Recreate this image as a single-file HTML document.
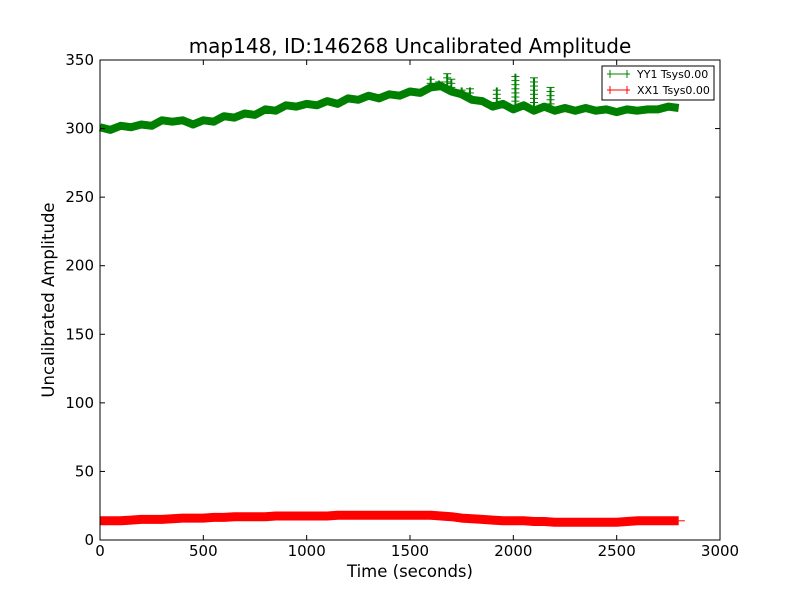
<!DOCTYPE html>
<html><head><meta charset="utf-8"><style>
body{margin:0;background:#fff;}
svg{display:block;font-family:"DejaVu Sans","Liberation Sans",sans-serif;}
</style></head><body>
<svg id="chart" width="800" height="600">
<rect x="0" y="0" width="800" height="600" fill="#fff"/>
<text x="410" y="53" font-size="20" text-anchor="middle">map148, ID:146268 Uncalibrated Amplitude</text>
<g id="plot"></g>
<rect x="100" y="60" width="620" height="480" fill="none" stroke="#000" stroke-width="1"/>
<text x="410" y="577" font-size="16.5" text-anchor="middle">Time (seconds)</text>
<text transform="translate(54,300) rotate(-90)" font-size="16.5" text-anchor="middle">Uncalibrated Amplitude</text>
<g>
<rect x="602" y="66" width="112" height="34" fill="#fff" stroke="#000" stroke-width="1"/>
<g>
<line x1="607" y1="74" x2="630" y2="74" stroke="green"/><line x1="610" y1="70" x2="610" y2="78" stroke="green"/><line x1="627" y1="70" x2="627" y2="78" stroke="green"/>
<text x="637" y="78" font-size="11">YY1 Tsys0.00</text></g>
<g>
<line x1="607" y1="90" x2="630" y2="90" stroke="red"/><line x1="610" y1="86" x2="610" y2="94" stroke="red"/><line x1="627" y1="86" x2="627" y2="94" stroke="red"/>
<text x="637" y="94" font-size="11">XX1 Tsys0.00</text></g>
</g>
</svg>
<script>
const times=[0,50,100,150,200,250,300,350,400,450,500,550,600,650,700,750,800,850,900,950,1000,1050,1100,1150,1200,1250,1300,1350,1400,1450,1500,1550,1600,1650,1700,1750,1800,1850,1900,1950,2000,2050,2100,2150,2200,2250,2300,2350,2400,2450,2500,2550,2600,2650,2700,2750,2800];
const yy1=[301,299,302,301,303,302,306,305,306,303,306,305,309,308,311,310,314,313,317,316,318,317,320,318,322,321,324,322,325,324,327,326,330,331,327,325,321,320,316,318,314,317,313,316,313,315,313,315,313,314,312,314,313,314,314,316,315];
const xx1=[14,14,14,14.5,15,15,15,15.5,16,16,16,16.5,16.5,17,17,17,17,17.5,17.5,17.5,17.5,17.5,17.5,18,18,18,18,18,18,18,18,18,18,17.5,17,16,15.5,15,14.5,14,14,14,13.5,13.5,13,13,13,13,13,13,13,13.5,14,14,14,14,14];
const spikeTimes=[1600,1640,1680,1700,1750,1790,1920,2010,2100,2180];
const spikeValues=[338,335,340,336,330,330,330,340,337,330];
const spikeBase=[330,331,328,327,325,323,316,314,313,315];
const xTicks=[0,500,1000,1500,2000,2500,3000];
const yTicks=[0,50,100,150,200,250,300,350];
const X=t=>100+t/3000*620, Y=v=>540-v/350*480;
const NS="http://www.w3.org/2000/svg", g=document.getElementById('plot');
function mk(tag,at,parent){const e=document.createElementNS(NS,tag);for(const k in at)e.setAttribute(k,at[k]);(parent||g).appendChild(e);return e;}
function series(vals,color,name,w){
  const pts=times.map((t,i)=>X(t).toFixed(1)+','+Y(vals[i]).toFixed(1)).join(' ');
  const p=mk('polyline',{points:pts,fill:'none',stroke:color,'stroke-width':w,'stroke-linejoin':'round'});
  
  
}
series(yy1,'green','yy1-series',8);
series(xx1,'red','xx1-series',9);
const tail=mk('line',{x1:X(2800),y1:Y(14),x2:X(2830),y2:Y(14),stroke:'red'});


spikeTimes.forEach((t,i)=>{
  const s=mk('g',{});
  
  
  mk('line',{x1:X(t),x2:X(t),y1:Y(spikeBase[i]),y2:Y(spikeValues[i]),stroke:'green','stroke-width':2},s);
  for(let v=spikeBase[i];v<=spikeValues[i];v+=3){mk('line',{x1:X(t)-4,x2:X(t)+4,y1:Y(v),y2:Y(v),stroke:'green'},s);}
});
const svg=document.getElementById('chart');
xTicks.forEach(t=>{
  const tk=mk('g',{},svg);
  
  
  mk('line',{x1:X(t),x2:X(t),y1:540,y2:535,stroke:'#000'},tk);
  mk('line',{x1:X(t),x2:X(t),y1:60,y2:65,stroke:'#000'},tk);
  const tx=mk('text',{x:X(t),y:556,'font-size':15,'text-anchor':'middle'},tk);tx.textContent=t;
});
yTicks.forEach(v=>{
  const tk=mk('g',{},svg);
  
  
  mk('line',{x1:100,x2:105,y1:Y(v),y2:Y(v),stroke:'#000'},tk);
  mk('line',{x1:720,x2:715,y1:Y(v),y2:Y(v),stroke:'#000'},tk);
  const tx=mk('text',{x:94,y:Y(v)+5,'font-size':15,'text-anchor':'end'},tk);tx.textContent=v;
});
</script>
</body></html>
